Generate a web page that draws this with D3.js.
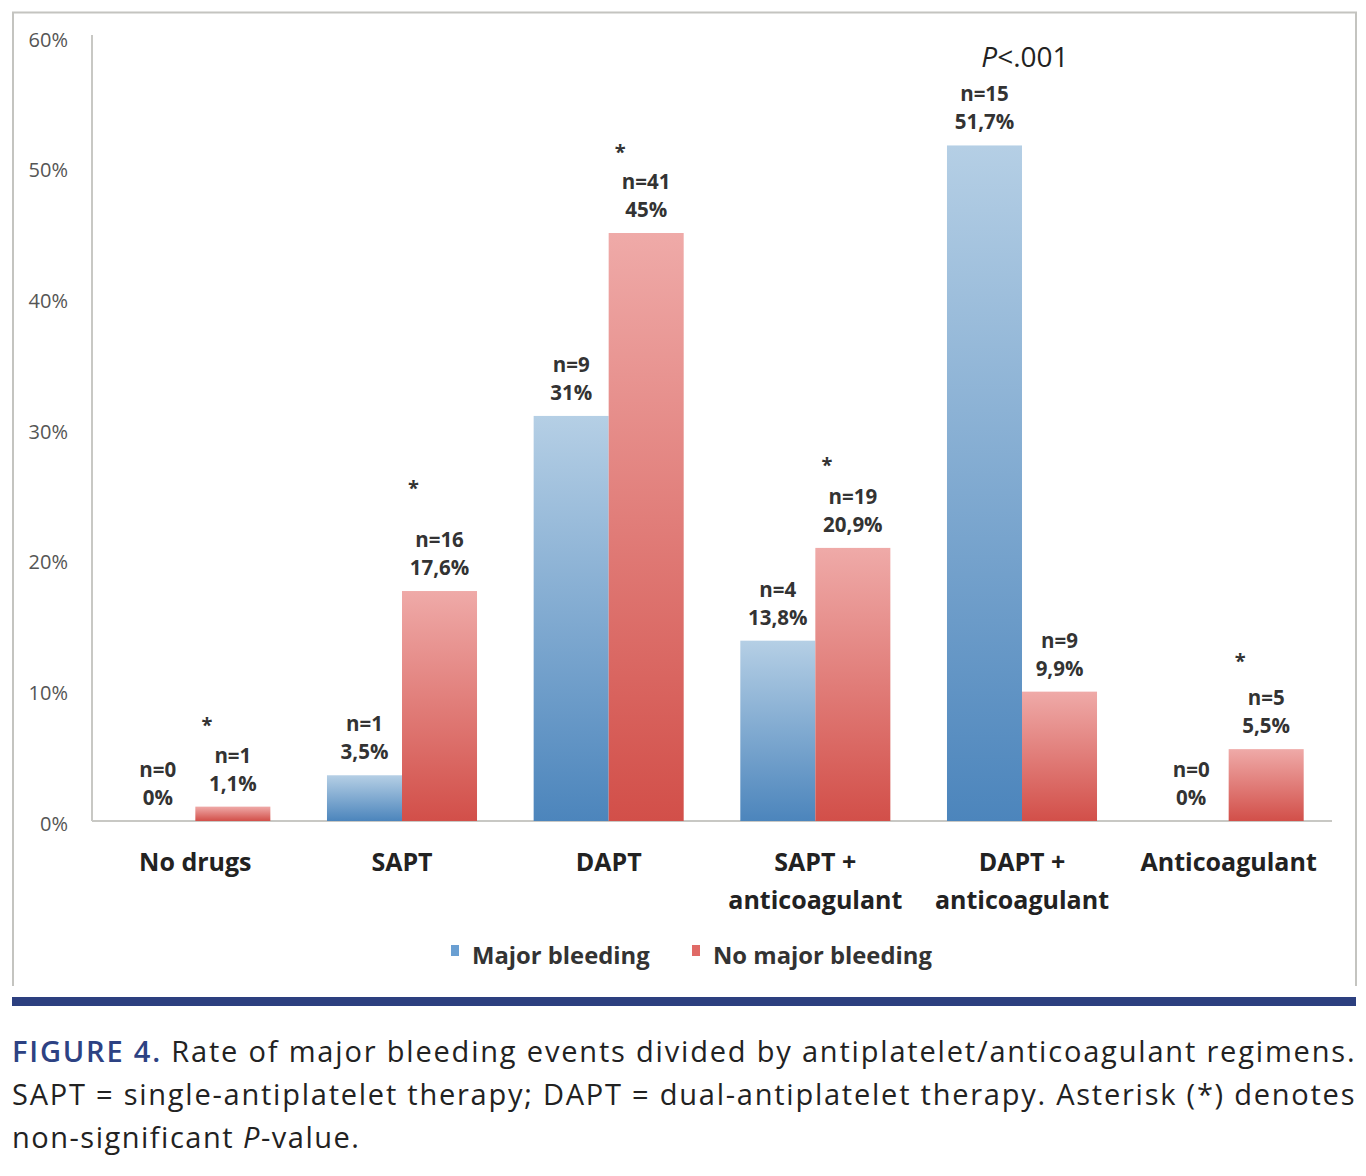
<!DOCTYPE html>
<html>
<head>
<meta charset="utf-8">
<script src="https://cdn.jsdelivr.net/npm/d3@7/dist/d3.min.js"></script>
<style>
  html, body { margin: 0; padding: 0; background: #ffffff; }
  svg { display: block; }
</style>
</head>
<body>
<script>
// ---- data ----
const categories = [["No drugs"], ["SAPT"], ["DAPT"], ["SAPT +", "anticoagulant"], ["DAPT +", "anticoagulant"], ["Anticoagulant"]];
const seriesNames = ["Major bleeding", "No major bleeding"];
const majorValues = [0, 3.5, 31, 13.8, 51.7, 0];
const majorCounts = [0, 1, 9, 4, 15, 0];
const majorLabels = ["0%", "3,5%", "31%", "13,8%", "51,7%", "0%"];
const noMajorValues = [1.1, 17.6, 45, 20.9, 9.9, 5.5];
const noMajorCounts = [1, 16, 41, 19, 9, 5];
const noMajorLabels = ["1,1%", "17,6%", "45%", "20,9%", "9,9%", "5,5%"];
const asteriskFlags = [true, true, true, true, false, true];
const asteriskLevels = [7.7, 25.9, 51.6, 27.6, 0, 12.6];
const yTicks = [0, 10, 20, 30, 40, 50, 60];
const pValueIndex = 4;
const captionLines = [
  [{t: "FIGURE 4.", c: "#2d4283", b: true}, {t: " Rate of major bleeding events divided by antiplatelet/anticoagulant regimens.", c: "#222"}],
  [{t: "SAPT = single-antiplatelet therapy; DAPT = dual-antiplatelet therapy. Asterisk (*) denotes", c: "#222"}],
  [{t: "non-significant ", c: "#222"}, {t: "P", c: "#222", i: true}, {t: "-value.", c: "#222"}]
];

// ---- layout ----
const W = 1366, H = 1176;
const svg = d3.select("body").append("svg").attr("width", W).attr("height", H);
const font = "'Open Sans', 'DejaVu Sans', sans-serif";

// frame
svg.append("path")
  .attr("d", "M13,986 V12.5 H1356 V986")
  .attr("fill", "none").attr("stroke", "#c4c4c0").attr("stroke-width", 2);

// blue rule
svg.append("rect").attr("x", 12).attr("y", 997).attr("width", 1344).attr("height", 9).attr("fill", "#2c3f7f");

const x0 = 92, x1 = 1332;
const y = d3.scaleLinear().domain([0, 60]).range([821, 37]);
const x = d3.scaleBand().domain(d3.range(categories.length)).range([x0, x1]).paddingInner(0.274).paddingOuter(0.137);
const xs = d3.scaleBand().domain([0, 1]).range([0, x.bandwidth()]);

// gradients
const defs = svg.append("defs");
function grad(id, top, bottom) {
  const g = defs.append("linearGradient").attr("id", id).attr("x1", 0).attr("y1", 0).attr("x2", 0).attr("y2", 1);
  g.append("stop").attr("offset", "0%").attr("stop-color", top);
  g.append("stop").attr("offset", "100%").attr("stop-color", bottom);
}
grad("gBlue", "#b5cfe5", "#4c85bc");
grad("gRed", "#efaaa8", "#d24f49");

// y axis
const yAxis = d3.axisLeft(y).tickValues(yTicks).tickSize(0).tickFormat(d => d + "%");
const gy = svg.append("g").attr("transform", `translate(${x0},0)`).call(yAxis);
gy.select(".domain").attr("stroke", "#c8c8c4").attr("stroke-width", 2).attr("d", `M0,${y(60) - 2}V${y(0)}`);
gy.selectAll("text").attr("x", -24).attr("dy", "0.45em")
  .attr("font-family", font).attr("font-size", 20).attr("fill", "#555");

// x axis
const xAxis = d3.axisBottom(x).tickSize(0).tickFormat("");
const gx = svg.append("g").attr("transform", `translate(0,${y(0)})`).call(xAxis);
gx.select(".domain").attr("stroke", "#c8c8c4").attr("stroke-width", 2).attr("d", `M${x0},0H${x1}`);

// category labels
categories.forEach((lines, i) => {
  const t = svg.append("text")
    .attr("x", x(i) + x.bandwidth() / 2).attr("y", 871)
    .attr("text-anchor", "middle").attr("font-family", font).attr("font-weight", 700)
    .attr("font-size", 25).attr("fill", "#222");
  lines.forEach((l, k) => t.append("tspan").attr("x", x(i) + x.bandwidth() / 2).attr("dy", k === 0 ? 0 : 38).text(l));
});

// bars
const series = [
  {vals: majorValues, counts: majorCounts, labels: majorLabels, fill: "url(#gBlue)"},
  {vals: noMajorValues, counts: noMajorCounts, labels: noMajorLabels, fill: "url(#gRed)"}
];
series.forEach((s, si) => {
  const g = svg.append("g");
  g.selectAll("rect").data(s.vals).join("rect")
    .attr("x", (d, i) => x(i) + xs(si))
    .attr("y", d => y(d))
    .attr("width", xs.bandwidth())
    .attr("height", d => y(0) - y(d))
    .attr("fill", s.fill);
  const lab = svg.append("g").attr("font-family", font).attr("font-weight", 700)
    .attr("font-size", 20.5).attr("fill", "#333").attr("text-anchor", "middle");
  s.vals.forEach((v, i) => {
    const cx = x(i) + xs(si) + xs.bandwidth() / 2;
    lab.append("text").attr("x", cx).attr("y", y(v) - 44).text("n=" + s.counts[i]);
    lab.append("text").attr("x", cx).attr("y", y(v) - 16).text(s.labels[i]);
  });
});

// asterisks
asteriskFlags.forEach((f, i) => {
  if (!f) return;
  svg.append("text")
    .attr("x", x(i) + xs(1) + xs.bandwidth() / 2 - 26)
    .attr("y", y(asteriskLevels[i]) + 12)
    .attr("text-anchor", "middle").attr("font-family", font).attr("font-weight", 700)
    .attr("font-size", 20).attr("fill", "#333").text("*");
});

// P-value
const pv = svg.append("text")
  .attr("x", x(pValueIndex) + x.bandwidth() / 2 + 3).attr("y", 67)
  .attr("text-anchor", "middle").attr("font-family", font).attr("font-size", 28).attr("fill", "#222");
pv.append("tspan").attr("font-style", "italic").text("P");
pv.append("tspan").text("<.001");

// legend
const legend = [
  {name: seriesNames[0], color: "#6a9fd2", sx: 451, tx: 472},
  {name: seriesNames[1], color: "#e06a66", sx: 692, tx: 713}
];
legend.forEach(l => {
  svg.append("rect").attr("x", l.sx).attr("y", 945).attr("width", 8).attr("height", 11).attr("fill", l.color);
  svg.append("text").attr("x", l.tx).attr("y", 964).attr("font-family", font).attr("font-weight", 700)
    .attr("font-size", 23.8).attr("fill", "#333").text(l.name);
});

// caption
const capFont = "'Open Sans', Lato, sans-serif";
const capY = [1062, 1105, 1148];
captionLines.forEach((parts, li) => {
  const t = svg.append("text").attr("x", 12).attr("y", capY[li])
    .attr("font-family", capFont).attr("font-size", 29).attr("font-weight", 500)
    .attr("letter-spacing", 1.5);
  parts.forEach(p => {
    const ts = t.append("tspan").attr("fill", p.c).text(p.t);
    if (p.i) ts.attr("font-style", "italic");
    if (p.b) ts.attr("font-weight", 600);
  });
  if (li < 2) t.attr("textLength", 1344).attr("lengthAdjust", "spacing");
});
</script>
</body>
</html>
